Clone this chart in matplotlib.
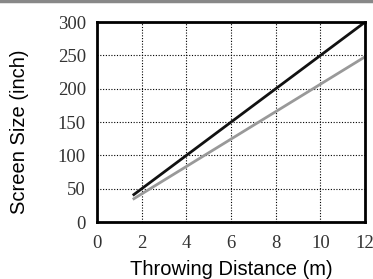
import matplotlib
matplotlib.use("Agg")
import matplotlib.pyplot as plt

# throw distance (m) vs screen size (inch), two zoom settings
dist = [1.6, 12]
size_wide = [40, 300]
size_tele = [34, 248]

xticks = [0, 2, 4, 6, 8, 10, 12]
yticks = [0, 50, 100, 150, 200, 250, 300]

fig = plt.figure(figsize=(3.73, 2.79), dpi=100)
ax = fig.add_axes([0.260, 0.204, 0.719, 0.717])

ax.plot(dist, size_tele, color="#999999", lw=2.0, solid_capstyle="butt")
ax.plot(dist, size_wide, color="#111111", lw=2.0, solid_capstyle="butt")

ax.set_xlim(0, 12)
ax.set_ylim(0, 300)
ax.set_xticks(xticks)
ax.set_yticks(yticks)
ax.grid(True, color="black", linestyle=(0, (1, 1.5)), linewidth=0.8)
ax.tick_params(length=0, labelsize=13.5, labelcolor="#333333")
ax.tick_params(axis="x", pad=9)
ax.tick_params(axis="y", pad=8)
for lbl in ax.get_xticklabels() + ax.get_yticklabels():
    lbl.set_fontfamily("Liberation Serif")
for s in ax.spines.values():
    s.set_linewidth(2.0)
    s.set_color("black")

ax.set_xlabel("Throwing Distance (m)", fontfamily="Liberation Sans", fontsize=14.5)
ax.set_ylabel("Screen Size (inch)", fontfamily="Liberation Sans", fontsize=14.5)
ax.xaxis.set_label_coords(0.5, -0.19)
ax.yaxis.set_label_coords(-0.254, 0.4525)

# grey band at top edge of the image
fig.add_artist(plt.Line2D([0, 1], [0.995, 0.995], color="#888888", lw=2.5,
                          transform=fig.transFigure))

fig.savefig("out.png", dpi=100)
